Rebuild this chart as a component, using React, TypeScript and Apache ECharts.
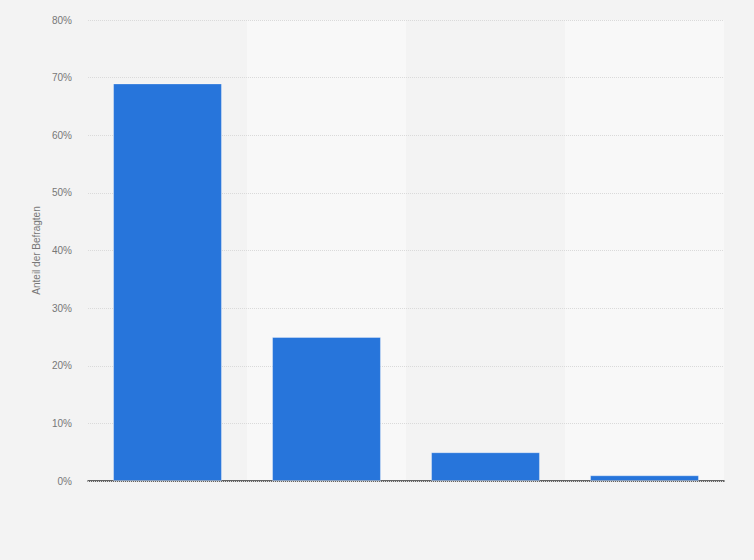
import { useEffect, useRef } from 'react';
import * as echarts from 'echarts';

const categories = ['Kategorie 1', 'Kategorie 2', 'Kategorie 3', 'Kategorie 4'];
const shareValues = [69, 25, 5, 1];
const yMin = 0;
const yMax = 80;
const yInterval = 10;
const yAxisName = 'Anteil der Befragten';

const fontFamily = 'Arial, "Liberation Sans", sans-serif';

export default function App() {
  const chartRef = useRef<HTMLDivElement | null>(null);

  useEffect(() => {
    document.body.style.margin = '0';
    const element = chartRef.current;
    if (!element) {
      return;
    }

    const chart = echarts.init(element, undefined, { renderer: 'svg' });
    chart.setOption({
      animation: false,
      backgroundColor: '#f3f3f3',
      textStyle: { fontFamily },
      grid: {
        left: 88,
        right: 30,
        top: 20,
        bottom: 79,
        containLabel: false,
      },
      xAxis: {
        type: 'category',
        data: categories,
        z: 0,
        axisTick: { show: false },
        axisLabel: { show: false },
        axisLine: { lineStyle: { color: '#333333', width: 1.5 } },
        splitArea: {
          show: true,
          areaStyle: { color: ['#f3f3f3', '#f8f8f8'] },
        },
      },
      yAxis: {
        type: 'value',
        min: yMin,
        max: yMax,
        interval: yInterval,
        z: 1,
        name: yAxisName,
        nameLocation: 'middle',
        nameGap: 44,
        nameTextStyle: { color: '#777777', fontSize: 10, fontFamily },
        axisLine: { show: false },
        axisTick: { show: false },
        axisLabel: {
          formatter: '{value}%',
          color: '#777777',
          fontSize: 10,
          margin: 16,
          fontFamily,
        },
        splitLine: {
          lineStyle: { color: '#dadada', type: 'dotted', width: 1 },
        },
      },
      series: [
        {
          type: 'bar',
          data: shareValues,
          barWidth: '68.5%',
          itemStyle: {
            color: '#2775db',
            borderColor: 'rgba(255,255,255,0.35)',
            borderWidth: 1,
          },
        },
      ],
    });

    return () => {
      chart.dispose();
    };
  }, []);

  return <div ref={chartRef} style={{ width: 754, height: 560 }} />;
}
